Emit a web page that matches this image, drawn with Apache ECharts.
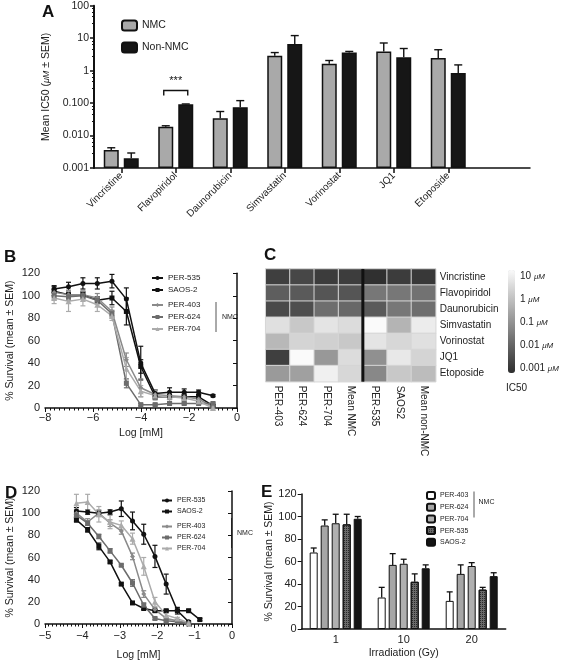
<!DOCTYPE html>
<html><head><meta charset="utf-8">
<script src="https://cdn.jsdelivr.net/npm/echarts@6/dist/echarts.min.js"></script>
<style>html,body{margin:0;padding:0;background:#fff}#c{width:561px;height:662px}</style>
</head><body><div id="c"></div>
<script>
const FONT = '"Liberation Sans", Arial, sans-serif';
const TXT = '#222';

// ---------- Panel A: mean IC50 (uM) ----------
const drugs = ['Vincristine','Flavopiridol','Daunorubicin','Simvastatin','Vorinostat','JQ1','Etoposide'];
const nmcMean  = [0.0036, 0.0188, 0.034, 2.86, 1.62, 3.9, 2.43];
const nmcUpper = [0.0042, 0.020, 0.055, 3.6, 2.05, 7.1, 4.4];
const nonMean  = [0.0020, 0.092, 0.075, 6.6, 3.6, 2.6, 0.84];
const nonUpper = [0.0029, 0.094, 0.119, 12, 3.9, 4.8, 1.5];
const aTickLabels = ['0.001','0.010','0.100','1','10','100'];
const sigDrug = 'Flavopiridol';
const sigBracket = [0.245, 0.17];   // bracket line value, tip value
const sigText = '***';

// ---------- Panel B: survival vs log[mM] ----------
const bLogConc = [-7.62,-7.02,-6.42,-5.82,-5.21,-4.61,-4.01,-3.41,-2.81,-2.20,-1.60,-1.00];
const bPER535 = [106,108,111,111,113,97,40,13,14,14,14,11];
const bPER535Sem = [3,4,5,5,6,10,15,3,4,3,2,1];
const bSAOS2 = [104,101,101,96,98,86,37,10,10,10,10,2];
const bSAOS2Sem = [4,3,3,3,6,12,6,2,2,2,2,1];
const bPER403 = [103,101,101,98,86,43,18,12,11,10,8,1];
const bPER403Sem = [3,4,3,4,4,6,8,4,3,3,3,1];
const bPER624 = [100,99,100,96,84,22,3,3,4,4,4,4];
const bPER624Sem = [3,3,3,3,3,4,1,1,1,1,1,1];
const bPER704 = [98,95,97,92,82,35,15,11,10,9,6,0];
const bPER704Sem = [5,9,6,6,4,10,5,4,4,3,3,1];

// ---------- Panel C: IC50 heatmap (uM) ----------
const hmCols = ['PER-403','PER-624','PER-704','Mean NMC','PER-535','SAOS2','Mean non-NMC'];
const hmRows = ['Vincristine','Flavopiridol','Daunorubicin','Simvastatin','Vorinostat','JQ1','Etoposide'];
const hmVincristine  = [0.0022,0.0031,0.0019,0.0020,0.0011,0.0019,0.0016];
const hmFlavopiridol = [0.0087,0.0072,0.0058,0.0058,0.027,0.027,0.022];
const hmDaunorubicin = [0.0035,0.0043,0.018,0.014,0.0072,0.027,0.018];
const hmSimvastatin  = [3.1,1.05,3.7,2.6,10,0.43,5.4];
const hmVorinostat   = [0.51,1.8,1.5,1.05,3.7,2.1,3.1];
const hmJQ1          = [0.0022,10,0.12,2.6,0.083,4.5,1.8];
const hmEtoposide    = [0.13,0.17,6.3,2.1,0.058,1.05,0.6];
const hmNmcCount = 4;
const cbTicks = ['10','1','0.1','0.01','0.001'];

// ---------- Panel D ----------
const dLogConc = [-4.16,-3.86,-3.56,-3.26,-2.96,-2.66,-2.36,-2.06,-1.76,-1.46,-1.16,-0.86];
const dPER535 = [102,101,100,101,104,93,81,61,36,12,2];
const dPER535Sem = [3,2,2,2,7,8,9,10,9,3,1];
const dSAOS2 = [94,85,70,56,36,19,14,12,12,12,12,4];
const dSAOS2Sem = [2,2,3,1,1,1,1,1,1,1,1,1];
const dPER403 = [100,92,100,91,84,61,27,13,5,3,1];
const dPER403Sem = [3,3,3,3,3,3,3,2,1,1,1];
const dPER624 = [98,91,79,66,53,37,17,5,3,2,0];
const dPER624Sem = [3,2,2,2,1,3,2,1,1,1,1];
const dPER704 = [109,110,99,92,89,77,52,20,8,5,1];
const dPER704Sem = [8,7,7,6,4,5,8,4,2,1,1];

// ---------- Panel E: irradiation ----------
const eDoses = ['1','10','20'];
const ePER403 = [68,28,25];  const ePER403Up = [72,37,33];
const ePER624 = [92,57,49];  const ePER624Up = [97,67,57];
const ePER704 = [94,58,56];  const ePER704Up = [102,62,59];
const ePER535 = [93,42,35];  const ePER535Up = [102,49,37];
const eSAOS2  = [98,54,47];  const eSAOS2Up  = [100,57,50];

// ---------- styles ----------
const lineStyles = {
  'PER-535': {color:'#111', symbol:'circle'},
  'SAOS-2':  {color:'#111', symbol:'rect'},
  'PER-403': {color:'#8a8a8a', symbol:'diamond'},
  'PER-624': {color:'#6c6c6c', symbol:'rect'},
  'PER-704': {color:'#ababab', symbol:'triangle'}
};

function errBoth(params, api){
  const x=api.value(0), y=api.value(1), s=api.value(2);
  const t=api.coord([x,y+s]), b=api.coord([x,y-s]);
  const c=api.visual('color'), h=2.5;
  const st={stroke:c,lineWidth:1.2};
  return {type:'group',children:[
    {type:'line',shape:{x1:t[0],y1:t[1],x2:b[0],y2:b[1]},style:st},
    {type:'line',shape:{x1:t[0]-h,y1:t[1],x2:t[0]+h,y2:t[1]},style:st},
    {type:'line',shape:{x1:b[0]-h,y1:b[1],x2:b[0]+h,y2:b[1]},style:st}]};
}
function lineSeries(ax, xs, name, ys){
  const s=lineStyles[name];
  return {type:'line', name, xAxisIndex:ax, yAxisIndex:ax, data:ys.map((y,i)=>[xs[i],y]),
    symbol:s.symbol, symbolSize:s.symbol==='triangle'?6:5, color:s.color,
    itemStyle:{color:s.color}, lineStyle:{color:s.color,width:1.5}, z:4, silent:true};
}
function errSeries(ax, xs, name, ys, sems){
  const s=lineStyles[name];
  return {type:'custom', xAxisIndex:ax, yAxisIndex:ax, itemStyle:{color:s.color}, z:3, silent:true,
    data:ys.map((y,i)=>[xs[i],y,sems[i]]), renderItem:errBoth};
}

// Panel A bar geometry
const A_BW = 15, A_GAP = 5;
function upperErr(offset, capHalf){
  return function(params, api){
    const i=api.value(0), up=api.value(1), m=api.value(2);
    const a=api.coord([i,up]), b=api.coord([i,m]);
    const x=a[0]+offset; const st={stroke:'#111',lineWidth:1.4};
    return {type:'group',children:[
      {type:'line',shape:{x1:x,y1:a[1],x2:x,y2:b[1]},style:st},
      {type:'line',shape:{x1:x-capHalf,y1:a[1],x2:x+capHalf,y2:a[1]},style:st}]};
  };
}
const aOff = (A_BW + A_GAP)/2;

// Panel E bar geometry
const E_BW = 8, E_GAP = 3;
function eErr(params, api){
  const i=api.value(0), up=api.value(1), m=api.value(2), k=api.value(3);
  const a=api.coord([i,up]), b=api.coord([i,m]);
  const x=a[0]+(k-2)*(E_BW+E_GAP); const st={stroke:'#111',lineWidth:1.3};
  return {type:'group',children:[
    {type:'line',shape:{x1:x,y1:a[1],x2:x,y2:b[1]},style:st},
    {type:'line',shape:{x1:x-3,y1:a[1],x2:x+3,y2:a[1]},style:st}]};
}

const hmData = [];
[hmVincristine,hmFlavopiridol,hmDaunorubicin,hmSimvastatin,hmVorinostat,hmJQ1,hmEtoposide].forEach((row,r)=>{
  row.forEach((v,c)=>hmData.push([c,r,Math.log10(v)]));
});

const minus = v => (v<0 ? '\u2212'+Math.abs(v) : String(v));
const axLine = {show:true, lineStyle:{color:'#111', width:1.5}};
const survName = '% Survival (mean \u00b1 SEM)';

const eNames = ['PER-403','PER-624','PER-704','PER-535','SAOS-2'];
const eVals = [ePER403,ePER624,ePER704,ePER535,eSAOS2];
const eUps = [ePER403Up,ePER624Up,ePER704Up,ePER535Up,eSAOS2Up];
const eColors = ['#ffffff','#a6a6a6','#b0b0b0','#6a6a6a','#151515'];

const series = [
  // A
  {type:'bar', name:'NMC', xAxisIndex:0, yAxisIndex:0, data:nmcMean, barWidth:A_BW, barGap:(A_GAP/A_BW*100)+'%',
   itemStyle:{color:'#a9a9a9', borderColor:'#111', borderWidth:1.5}, silent:true},
  {type:'bar', name:'Non-NMC', xAxisIndex:0, yAxisIndex:0, data:nonMean, barWidth:A_BW,
   itemStyle:{color:'#161616', borderColor:'#111', borderWidth:1.5}, silent:true},
  {type:'custom', xAxisIndex:0, yAxisIndex:0, silent:true, z:3, data:nmcUpper.map((u,i)=>[i,u,nmcMean[i]]), renderItem:upperErr(-aOff,4)},
  {type:'custom', xAxisIndex:0, yAxisIndex:0, silent:true, z:3, data:nonUpper.map((u,i)=>[i,u,nonMean[i]]), renderItem:upperErr(aOff,4)},
  {type:'custom', xAxisIndex:0, yAxisIndex:0, silent:true, z:3, data:[[drugs.indexOf(sigDrug), sigBracket[0], sigBracket[1]]],
   renderItem:(params, api)=>{
     const i=api.value(0); const a=api.coord([i,api.value(1)]), b=api.coord([i,api.value(2)]);
     const l=a[0]-aOff-2, r=a[0]+aOff+2; const st={stroke:'#111',lineWidth:1.4,fill:null};
     return {type:'group',children:[
       {type:'polyline',shape:{points:[[l,b[1]],[l,a[1]],[r,a[1]],[r,b[1]]]},style:st},
       {type:'text',x:a[0],y:a[1]-4,style:{text:sigText,fill:'#111',font:'11px '+FONT,textAlign:'center',textVerticalAlign:'bottom'}}]};
   }},
  // B
  ...['PER-535','SAOS-2','PER-403','PER-624','PER-704'].map((n,k)=>errSeries(1,bLogConc,n,[bPER535,bSAOS2,bPER403,bPER624,bPER704][k],[bPER535Sem,bSAOS2Sem,bPER403Sem,bPER624Sem,bPER704Sem][k])),
  ...['PER-535','SAOS-2','PER-403','PER-624','PER-704'].map((n,k)=>lineSeries(1,bLogConc,n,[bPER535,bSAOS2,bPER403,bPER624,bPER704][k])),
  // D
  ...['PER-535','SAOS-2','PER-403','PER-624','PER-704'].map((n,k)=>errSeries(3,dLogConc,n,[dPER535,dSAOS2,dPER403,dPER624,dPER704][k],[dPER535Sem,dSAOS2Sem,dPER403Sem,dPER624Sem,dPER704Sem][k])),
  ...['PER-535','SAOS-2','PER-403','PER-624','PER-704'].map((n,k)=>lineSeries(3,dLogConc,n,[dPER535,dSAOS2,dPER403,dPER624,dPER704][k])),
  // E
  ...eNames.map((n,k)=>({type:'bar', name:'E:'+n, xAxisIndex:4, yAxisIndex:4, data:eVals[k], barWidth:E_BW,
     barGap:(E_GAP/E_BW*100)+'%', silent:true,
     itemStyle:Object.assign({color:eColors[k], borderColor:'#111', borderWidth:1},
       n==='PER-535'?{decal:{symbol:'rect',symbolSize:1,color:'rgba(20,20,20,0.75)',dashArrayX:[1,1],dashArrayY:[1,1],rotation:0}}:{})})),
  {type:'custom', xAxisIndex:4, yAxisIndex:4, silent:true, z:3,
   data: eUps.flatMap((ups,k)=>ups.map((u,i)=>[i,u,eVals[k][i],k])), encode:{x:0,y:1}, renderItem:eErr},
];
const hmIndex = series.length;
series.push({type:'heatmap', xAxisIndex:2, yAxisIndex:2, data:hmData, silent:true,
  itemStyle:{borderColor:'#d6d6d6', borderWidth:1}, emphasis:{disabled:true}});
series.push({type:'custom', xAxisIndex:2, yAxisIndex:2, silent:true, z:6, data:[[hmNmcCount-1,0]],
  renderItem:(params, api)=>{
    const c=api.coord([api.value(0),api.value(1)]), w=api.size([1,1])[0], cs=params.coordSys;
    const x=c[0]+w/2;
    return {type:'line',shape:{x1:x,y1:cs.y,x2:x,y2:cs.y+cs.height},style:{stroke:'#111',lineWidth:3}};
  }});

const legendText = (fs, lh) => ({fontSize:fs, lineHeight:lh, color:TXT, fontFamily:FONT});

const option = {
  animation:false,
  textStyle:{fontFamily:FONT, color:TXT},
  title:[
    {text:'A', left:42, top:4},
    {text:'B', left:4, top:249},
    {text:'C', left:264, top:247},
    {text:'D', left:5, top:485},
    {text:'E', left:261, top:484}
  ].map(t=>Object.assign(t,{padding:0, textStyle:{fontSize:17,fontWeight:'bold',color:'#111',fontFamily:FONT}})),
  grid:[
    {left:94, top:5.7, width:436, height:162.3},
    {left:45, top:273.3, width:192, height:134.7},
    {left:265.7, top:269, width:170, height:112.7},
    {left:45, top:491, width:187, height:133},
    {left:301.7, top:494, width:204, height:135}
  ],
  xAxis:[
    {gridIndex:0, type:'category', data:drugs.concat(['']), axisLine:axLine,
     axisTick:{show:true, alignWithLabel:true, length:5, lineStyle:{color:'#111',width:1.5}, interval:(i)=>i<drugs.length},
     axisLabel:{rotate:45, fontSize:10, color:TXT, margin:6, interval:0}},
    {gridIndex:1, type:'value', min:-8, max:0, interval:2, axisLine:axLine, splitLine:{show:false},
     axisTick:{length:4, lineStyle:{color:'#111'}}, minorTick:{show:true, splitNumber:10, length:2.5, lineStyle:{color:'#111'}},
     axisLabel:{fontSize:11, color:TXT, margin:4, formatter:minus},
     name:'Log [mM]', nameLocation:'middle', nameGap:20, nameTextStyle:{fontSize:10.5, color:TXT}},
    {gridIndex:2, type:'category', data:hmCols, axisLine:{show:false}, axisTick:{show:false}, splitLine:{show:false},
     axisLabel:{rotate:-90, fontSize:10, color:TXT, margin:4, interval:0}},
    {gridIndex:3, type:'value', min:-5, max:0, interval:1, axisLine:axLine, splitLine:{show:false},
     axisTick:{length:4, lineStyle:{color:'#111'}}, minorTick:{show:true, splitNumber:10, length:2.5, lineStyle:{color:'#111'}},
     axisLabel:{fontSize:11, color:TXT, margin:6, formatter:minus},
     name:'Log [mM]', nameLocation:'middle', nameGap:26, nameTextStyle:{fontSize:10.5, color:TXT}},
    {gridIndex:4, type:'category', data:eDoses, axisLine:axLine, axisTick:{show:false},
     axisLabel:{fontSize:11, color:TXT, margin:5},
     name:'Irradiation (Gy)', nameLocation:'middle', nameGap:19, nameTextStyle:{fontSize:10.5, color:TXT}}
  ],
  yAxis:[
    {gridIndex:0, type:'log', logBase:10, min:0.001, max:100, startValue:0.001,
     axisLine:{show:true, lineStyle:{color:'#111', width:2}}, splitLine:{show:false},
     axisTick:{show:true, length:4, lineStyle:{color:'#111',width:1.5}},
     minorTick:{show:true, splitNumber:5, length:2, lineStyle:{color:'#111'}},
     axisLabel:{fontSize:10.5, color:TXT, margin:5, formatter:(v)=>aTickLabels[Math.round(Math.log10(v))+3]},
     name:'{n|Mean IC50 (}{u|\u03bcM}{n| \u00b1 SEM)}', nameLocation:'middle', nameGap:38, nameRotate:90,
     nameTextStyle:{rich:{n:{fontSize:10.5, color:TXT, fontFamily:FONT}, u:{fontSize:9, fontStyle:'italic', color:TXT, fontFamily:FONT}}}},
    {gridIndex:1, type:'value', min:0, max:120, interval:20, axisLine:axLine, splitLine:{show:false},
     axisTick:{show:true, length:4, lineStyle:{color:'#111'}}, axisLabel:{fontSize:11, color:TXT, margin:5},
     name:survName, nameLocation:'middle', nameGap:29, nameRotate:90, nameTextStyle:{fontSize:10.5, color:TXT}},
    {gridIndex:2, type:'category', data:hmRows, inverse:true, position:'right', axisLine:{show:false}, axisTick:{show:false},
     splitLine:{show:false}, axisLabel:{fontSize:10, color:TXT, margin:4}},
    {gridIndex:3, type:'value', min:0, max:120, interval:20, axisLine:axLine, splitLine:{show:false},
     axisTick:{show:true, length:4, lineStyle:{color:'#111'}}, axisLabel:{fontSize:11, color:TXT, margin:5},
     name:survName, nameLocation:'middle', nameGap:29, nameRotate:90, nameTextStyle:{fontSize:10.5, color:TXT}},
    {gridIndex:4, type:'value', min:0, max:120, interval:20, axisLine:axLine, splitLine:{show:false},
     axisTick:{show:true, length:4, lineStyle:{color:'#111'}}, axisLabel:{fontSize:11, color:TXT, margin:5},
     name:survName, nameLocation:'middle', nameGap:24, nameRotate:90, nameTextStyle:{fontSize:10.5, color:TXT}}
  ],
  legend:[
    {data:['NMC','Non-NMC'], left:121, top:19.5, padding:0, orient:'vertical', itemWidth:15, itemHeight:10, itemGap:10,
     selectedMode:false, textStyle:legendText(10.5,12)},
    {data:['PER-535','SAOS-2'], left:151, top:273, padding:0, orient:'vertical', itemWidth:11, itemHeight:5, itemGap:2,
     selectedMode:false, textStyle:legendText(8,10)},
    {data:['PER-403','PER-624','PER-704'], left:151, top:300, padding:0, orient:'vertical', itemWidth:11, itemHeight:5, itemGap:2,
     selectedMode:false, textStyle:legendText(8,10)},
    {data:['PER-535','SAOS-2'], left:161, top:496, padding:0, orient:'vertical', itemWidth:10, itemHeight:5, itemGap:2,
     selectedMode:false, textStyle:legendText(7,9)},
    {data:['PER-403','PER-624','PER-704'], left:161, top:522, padding:0, orient:'vertical', itemWidth:10, itemHeight:5, itemGap:2,
     selectedMode:false, textStyle:legendText(7,9)},
    {data:eNames.map(n=>'E:'+n), left:426, top:491, padding:0, orient:'vertical', itemWidth:8, itemHeight:7, itemGap:2.7,
     selectedMode:false, formatter:(n)=>n.slice(2), textStyle:legendText(7,7)}
  ],
  visualMap:[{type:'continuous', seriesIndex:hmIndex, min:-3, max:1, orient:'vertical', left:508, top:270, padding:0,
    itemWidth:7, itemHeight:103, calculable:false, showLabel:false, text:null,
    inRange:{color:['#2e2e2e','#fafafa']}}],
  graphic:[
    {type:'line', shape:{x1:216,y1:302,x2:216,y2:332}, style:{stroke:'#555',lineWidth:1}},
    {type:'text', x:222, y:317, style:{text:'NMC', font:'7px '+FONT, fill:TXT, textVerticalAlign:'middle'}},
    {type:'line', shape:{x1:231.5,y1:518,x2:231.5,y2:548}, style:{stroke:'#555',lineWidth:1}},
    {type:'text', x:237, y:533, style:{text:'NMC', font:'7px '+FONT, fill:TXT, textVerticalAlign:'middle'}},
    {type:'line', shape:{x1:474,y1:491.5,x2:474,y2:517.5}, style:{stroke:'#555',lineWidth:1}},
    {type:'text', x:478.5, y:502, style:{text:'NMC', font:'7px '+FONT, fill:TXT, textVerticalAlign:'middle'}},
    ...cbTicks.map((t,i)=>({type:'text', x:520, y:276.7+i*22.9,
      style:{text:'{n|'+t+' }{u|\u03bcM}', fill:TXT, textVerticalAlign:'middle',
        rich:{n:{fontSize:10, fontFamily:FONT, fill:TXT}, u:{fontSize:8, fontStyle:'italic', fontFamily:FONT, fill:TXT}}}})),
    {type:'text', x:506, y:388, style:{text:'IC50', font:'10px '+FONT, fill:TXT, textVerticalAlign:'middle'}}
  ],
  series
};
const chart = echarts.init(document.getElementById('c'), null, {renderer:'canvas'});
chart.setOption(option);
</script></body></html>
